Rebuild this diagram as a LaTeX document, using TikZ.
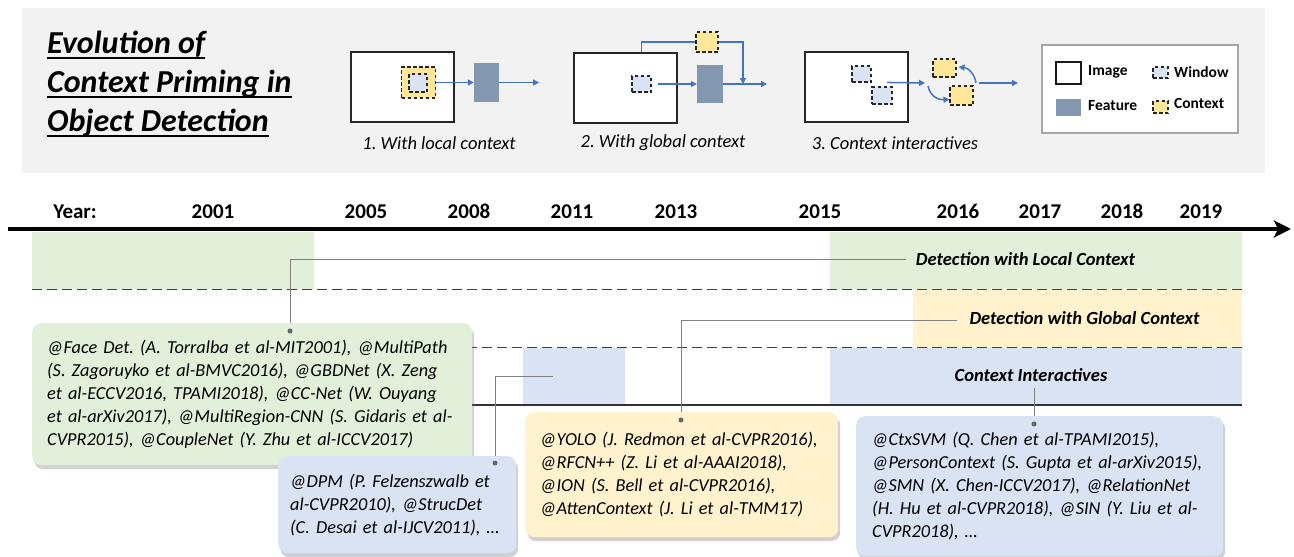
\documentclass[tikz,border=0pt]{standalone}
\usepackage{fontspec}
\setmainfont{Carlito}
\usetikzlibrary{arrows.meta,shadows}

\definecolor{bggrey}{HTML}{F2F2F2}
\definecolor{lanegreen}{HTML}{E2F0D9}
\definecolor{laneyellow}{HTML}{FFF2CC}
\definecolor{laneblue}{HTML}{DAE3F3}
\definecolor{winblue}{HTML}{DAE3F3}
\definecolor{ctxyellow}{HTML}{FFE699}
\definecolor{featgrey}{HTML}{8497B0}
\definecolor{flowblue}{HTML}{4472C4}
\definecolor{conngrey}{HTML}{808080}

\newcommand{\titlesize}{\fontsize{32}{38}\selectfont}
\newcommand{\yearsize}{\fontsize{21}{24}\selectfont}
\newcommand{\lanesize}{\fontsize{18.5}{22}\selectfont}
\newcommand{\refsize}{\fontsize{18.3}{23}\selectfont}
\newcommand{\panelsize}{\fontsize{18.5}{22}\selectfont}
\newcommand{\legsize}{\fontsize{15.5}{18}\selectfont}
\frenchspacing

\begin{document}
\begin{tikzpicture}[x=1pt,y=-1pt,
    every node/.style={inner sep=0pt},
    img/.style={draw=black!85,fill=white,line width=1.3pt,minimum width=103pt,minimum height=70pt},
    win/.style={draw=black!85,line width=1.1pt,dash pattern=on 3.5pt off 2.5pt,fill=winblue},
    ctx/.style={win,fill=ctxyellow},
    feat/.style={fill=featgrey},
    flow/.style={draw=flowblue,line width=1.5pt,-{Triangle[length=6pt,width=6pt]}},
    conn/.style={draw=conngrey,line width=0.8pt},
    lanesep/.style={draw=black!75,line width=1.4pt,dash pattern=on 10pt off 5pt},
    refbox/.style={rounded corners=9pt,inner xsep=15pt,anchor=north west,align=left,
      font=\refsize\itshape,drop shadow={shadow xshift=2pt,shadow yshift=-4pt,opacity=0.3,fill=black!60}},
    titleln/.style={font=\titlesize\bfseries\itshape,anchor=base west},
    yearlbl/.style={font=\yearsize\bfseries,anchor=base},
    lanelbl/.style={font=\lanesize\bfseries\itshape},
    paneltxt/.style={font=\panelsize\itshape},
    legtxt/.style={font=\legsize\bfseries,anchor=west}]
\useasboundingbox (0,0) rectangle (1294,557);

% banner
\fill[bggrey] (22,8) rectangle (1265,173);
\node[titleln] (title1) at (47,53) {Evolution of};
\node[titleln] (title2) at (47,92) {Context Priming in};
\node[titleln] (title3) at (47,131) {Object Detection};
\draw[line width=1.8pt] ([yshift=-5pt]title1.base west) -- ([yshift=-5pt]title1.base east);
\draw[line width=1.8pt] ([yshift=-5pt]title2.base west) -- ([yshift=-5pt]title2.base east);
\draw[line width=1.8pt] ([yshift=-5pt]title3.base west) -- ([yshift=-5pt]title3.base east);

% 1. local context
\node[img] (img1) at (402.5,87) {};
\node[ctx,minimum width=34pt,minimum height=31pt] (ctx1) at (418.5,82.5) {};
\node[win,minimum width=18pt,minimum height=18pt] (win1) at (418,83) {};
\node[feat,minimum width=25pt,minimum height=39pt] (feat1) at (486.5,82.5) {};
\coordinate (out1) at (539,82.5);
\draw[flow] (ctx1.east) -- (feat1.west);
\draw[flow] (feat1.east) -- (out1);
\node[paneltxt] (cap1) at (439,143) {1. With local context};

% 2. global context
\node[img] (img2) at (625.5,88) {};
\node[win,minimum width=19pt,minimum height=16pt] (win2) at (641.5,84) {};
\node[feat,minimum width=26pt,minimum height=38pt] (feat2) at (710,84) {};
\node[ctx,minimum width=22pt,minimum height=20pt] (ctx2) at (707,42) {};
\coordinate (join2) at (743,84);
\coordinate (out2) at (767,84);
\draw[flow] ([xshift=6pt]win2.east) -- (feat2.west);
\draw[flow,-] (img2.north -| win2) |- (ctx2.west);
\draw[flow] (ctx2.east) -| (join2);
\draw[flow] (feat2.east) -- (out2);
\node[paneltxt] (cap2) at (663,143) {2. With global context};

% 3. context interactives
\node[img] (img3) at (856.5,87) {};
\node[win,minimum width=19pt,minimum height=16pt] (win3a) at (861.5,74) {};
\node[win,minimum width=20pt,minimum height=17pt] (win3b) at (882,95.5) {};
\node[ctx,minimum width=23pt,minimum height=18pt] (ctx3a) at (944.5,68) {};
\node[ctx,minimum width=23pt,minimum height=19pt] (ctx3b) at (961.5,95.5) {};
\coordinate (in3) at (925,83);
\coordinate (out3) at (1018,83);
\draw[flow] ([xshift=5pt,yshift=4pt]win3b.north) -- (in3);
\draw[flow] (928,86) .. controls (930,96) and (938,100) .. ([yshift=-4pt]ctx3b.west);
\draw[flow] (976,83) .. controls (975,75) and (969,68) .. ([xshift=2pt,yshift=1pt]ctx3a.east);
\draw[flow] (979,83) -- (out3);
\node[paneltxt] (cap3) at (895,143) {3. Context interactives};

% legend
\node[draw=black!35,fill=white,line width=1.2pt,minimum width=196pt,minimum height=88pt] (legbox) at (1140,89) {};
\node[draw=black!90,fill=white,line width=1.2pt,minimum width=25pt,minimum height=22pt] (legimg) at (1068.5,73) {};
\node[legtxt] (legimgtxt) at (1088,72) {Image};
\node[win,minimum width=15pt,minimum height=11pt] (legwin) at (1160.5,72.5) {};
\node[legtxt] (legwintxt) at (1174,72) {Window};
\node[feat,minimum width=25pt,minimum height=17pt] (legfeat) at (1068.5,107.5) {};
\node[legtxt] (legfeattxt) at (1088,106) {Feature};
\node[ctx,minimum width=15pt,minimum height=12pt] (legctx) at (1160.5,107) {};
\node[legtxt] (legctxtxt) at (1174,103) {Context};

% years
\node[yearlbl] (yr) at (75,218) {Year:};
\node[yearlbl] (y2001) at (213,218) {2001};
\node[yearlbl] (y2005) at (366,218) {2005};
\node[yearlbl] (y2008) at (469,218) {2008};
\node[yearlbl] (y2011) at (572,218) {2011};
\node[yearlbl] (y2013) at (676,218) {2013};
\node[yearlbl] (y2015) at (820,218) {2015};
\node[yearlbl] (y2016) at (958,218) {2016};
\node[yearlbl] (y2017) at (1040,218) {2017};
\node[yearlbl] (y2018) at (1122,218) {2018};
\node[yearlbl] (y2019) at (1201,218) {2019};

% lanes
\fill[lanegreen] (32,232) rectangle (314,289);
\fill[lanegreen] (830,232) rectangle (1242,289);
\fill[laneyellow] (913,290) rectangle (1242,347);
\fill[laneblue] (523,348) rectangle (625,405);
\fill[laneblue] (830,348) rectangle (1242,405);
\draw[lanesep] (32,289.5) -- (1242,289.5);
\draw[lanesep] (32,347.5) -- (1242,347.5);
\draw[black!80,line width=1.4pt] (32,405) -- (1242,405);
\coordinate (axL) at (8,229);
\coordinate (axR) at (1291,229);
\draw[line width=3.5pt,-{Stealth[length=17pt,width=17pt,inset=4pt]}] (axL) -- (axR);

\node[lanelbl] (lloc) at (1025.5,259) {Detection with Local Context};
\node[lanelbl] (lglob) at (1084.5,318) {Detection with Global Context};
\node[lanelbl] (lint) at (1031,375) {Context Interactives};

% connectors
\coordinate (dA) at (290,331);
\coordinate (dB) at (681,420);
\coordinate (b2011) at (553,376);
\coordinate (dC) at (495,463);
\coordinate (dD) at (1034,424);
\draw[conn] ([xshift=-10pt]lloc.west) -| (dA);
\draw[conn] ([xshift=-12pt,yshift=-2pt]lglob.west) -| (dB);
\draw[conn] (b2011) -| (dC);
\draw[conn] ([yshift=-6pt]lint.south -| dD) -- (dD);

% references
\node[refbox,fill=lanegreen,text width=410pt,minimum height=142pt] (rgreen) at (32,323)
  {@Face Det. (A. Torralba et al-MIT2001), @MultiPath\\
   (S. Zagoruyko et al-BMVC2016), @GBDNet (X. Zeng\\
   et al-ECCV2016, TPAMI2018), @CC-Net (W. Ouyang\\
   et al-arXiv2017), @MultiRegion-CNN (S. Gidaris et al-\\
   CVPR2015), @CoupleNet (Y. Zhu et al-ICCV2017)};
\node[refbox,fill=laneblue,text width=214pt,minimum height=97pt,inner xsep=12pt] (rdpm) at (278,456)
  {@DPM (P. Felzenszwalb et\\
   al-CVPR2010), @StrucDet\\
   (C. Desai et al-IJCV2011), \dots};
\node[refbox,fill=laneyellow,text width=283pt,minimum height=125pt] (ryolo) at (525,412)
  {@YOLO (J. Redmon et al-CVPR2016),\\
   @RFCN++ (Z. Li et al-AAAI2018),\\
   @ION (S. Bell et al-CVPR2016),\\
   @AttenContext (J. Li et al-TMM17)};
\node[refbox,fill=laneblue,text width=335pt,minimum height=140pt,inner xsep=16pt] (rctx) at (856,416)
  {@CtxSVM (Q. Chen et al-TPAMI2015),\\
   @PersonContext (S. Gupta et al-arXiv2015),\\
   @SMN (X. Chen-ICCV2017), @RelationNet\\
   (H. Hu et al-CVPR2018), @SIN (Y. Liu et al-\\
   CVPR2018), \dots};

\fill[black!60] (dA) circle (2.5);
\fill[black!60] (dB) circle (2.5);
\fill[black!60] (dC) circle (2.5);
\fill[black!60] (dD) circle (2.5);
\end{tikzpicture}
\end{document}
